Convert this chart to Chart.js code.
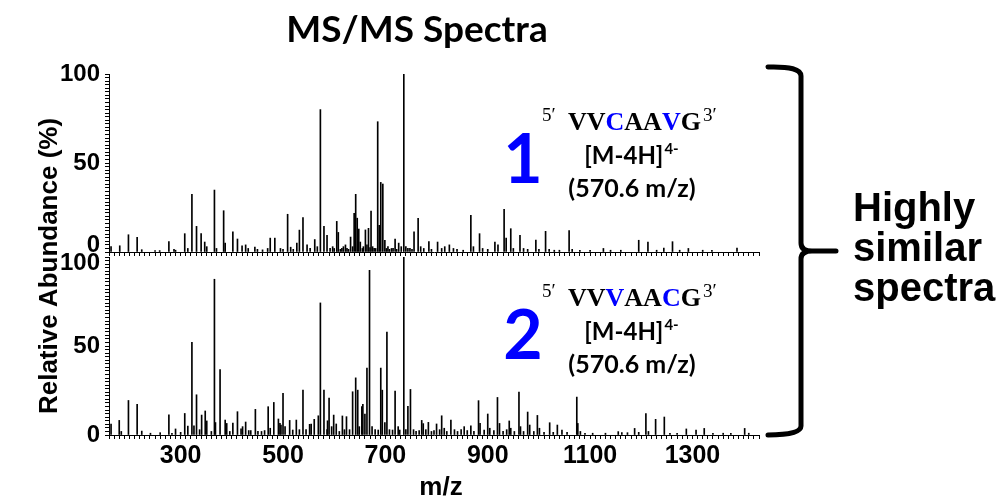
<!DOCTYPE html>
<html>
<head>
<meta charset="utf-8">
<script src="https://cdn.jsdelivr.net/npm/chart.js@4/dist/chart.umd.min.js"></script>
<style>
  html, body { margin: 0; padding: 0; background: #fff; }
  #wrap { position: relative; width: 1008px; height: 500px; }
  #wrap canvas { position: absolute; left: 0; top: 0; }
</style>
</head>
<body>
<div id="wrap">
  <canvas id="topChart" width="1008" height="500"></canvas>
  <canvas id="bottomChart" width="1008" height="500"></canvas>
</div>
<script>
// axis ranges and labels
const xMin = 160, xMax = 1430;
const xTickLabels = [300, 500, 700, 900, 1100, 1300];
const yTickLabels = [0, 50, 100];

// spectrum 1 (VVCAAVG)
const mzTop = [
  164, 181, 198, 215, 224, 250, 259, 277, 287, 290,
  308, 314, 322, 331, 340, 347, 351, 366, 370, 384,
  387, 402, 411, 420, 427, 432, 445, 450, 460, 470,
  475, 484, 495, 500, 509, 515, 520, 527, 532, 539,
  547, 553, 562, 567, 573, 580, 586, 592, 597, 600,
  605, 608, 612, 615, 618, 622, 625, 628, 632, 636,
  639, 642, 645, 648, 651, 655, 657, 661, 664, 667,
  670, 672, 675, 678, 681, 685, 688, 691, 695, 699,
  702, 705, 708, 712, 715, 719, 722, 726, 731, 736,
  740, 744, 748, 752, 756, 764, 769, 775, 785, 790,
  802, 810, 816, 825, 833, 840, 852, 867, 872, 884,
  890, 900, 914, 920, 932, 936, 945, 950, 963, 970,
  978, 994, 1000, 1013, 1020, 1030, 1040, 1059, 1065, 1080,
  1100, 1126, 1140, 1160, 1195, 1213, 1230, 1244, 1261, 1275,
  1292, 1320, 1338, 1387
];
const abTop = [
  3, 3.5, 9.7, 8.2, 1.3, 0.8, 0.8, 5.8, 1.5, 1,
  10.3, 2, 32.4, 14.4, 10.3, 5.6, 3, 34.8, 2, 23.2,
  5, 11.4, 7.3, 3.5, 4, 2, 2.7, 1.5, 1.2, 2,
  7.8, 7.8, 2, 1.5, 21.2, 2.7, 1.5, 5, 12.3, 19.3,
  4, 2, 7, 3, 80, 14.4, 9.4, 2, 3, 2,
  17.2, 11, 1.5, 2, 3, 4, 2, 1.5, 8.4, 3,
  21.7, 32.4, 19, 12.9, 5.6, 2, 3, 12.4, 4, 13.3,
  2.5, 23, 3, 2, 2, 73.2, 15, 39.1, 38.2, 6.5,
  2, 3, 1.5, 2, 2, 7.3, 1.5, 5, 3, 100,
  3, 2, 2, 1.5, 11.4, 18.9, 3, 2, 5.8, 1.5,
  5.6, 2, 3, 4, 2, 1.5, 1, 20.6, 3, 10.3,
  2, 1.5, 5.6, 4, 24, 7.8, 13.1, 2, 9.4, 2,
  1.5, 6.7, 1.5, 11.6, 1.5, 1, 1, 12, 1.5, 1,
  1, 2, 1, 1, 6.6, 5.6, 1, 2.2, 5.8, 1,
  2, 1, 1, 2.2
];

// spectrum 2 (VVVAACG)
const mzBottom = [
  164, 180, 184, 198, 215, 224, 241, 260, 277, 283,
  290, 300, 308, 314, 322, 326, 331, 337, 341, 348,
  351, 360, 366, 368, 377, 387, 390, 396, 402, 411,
  418, 421, 427, 433, 437, 446, 451, 458, 464, 471,
  475, 482, 491, 494, 496, 500, 504, 513, 519, 526,
  532, 539, 545, 552, 555, 561, 569, 573, 580, 586,
  587, 590, 595, 599, 604, 610, 616, 620, 624, 630,
  636, 642, 646, 649, 654, 656, 660, 664, 669, 674,
  680, 686, 691, 694, 699, 703, 708, 714, 719, 725,
  728, 736, 740, 744, 749, 755, 760, 766, 771, 774,
  779, 784, 790, 795, 800, 806, 810, 815, 820, 828,
  835, 841, 848, 854, 860, 867, 873, 882, 885, 893,
  900, 904, 912, 919, 923, 930, 937, 942, 945, 952,
  961, 964, 970, 978, 982, 990, 997, 1001, 1010, 1021,
  1028, 1036, 1045, 1055, 1074, 1076, 1081, 1090, 1105, 1130,
  1155, 1162, 1173, 1187, 1195, 1209, 1214, 1228, 1245, 1256,
  1270, 1288, 1307, 1323, 1340, 1360, 1375, 1402, 1410
];
const abBottom = [
  6.2, 8.2, 2, 19.4, 17.2, 2.2, 1, 1.3, 11.4, 1,
  3.4, 1.5, 12.1, 5, 52, 5.2, 22.6, 3, 11.2, 13.5,
  7.9, 2, 87.5, 7, 36.8, 8.4, 6.5, 2, 6.7, 13.1,
  3.4, 4.7, 7.3, 2.5, 2.5, 14.4, 2, 2, 2.5, 15.9,
  3.8, 18.3, 9, 6.5, 5.6, 23.4, 4.7, 8.2, 2.8, 8.4,
  3, 25.2, 3, 6, 6.2, 8.8, 10.8, 74.2, 25.2, 3,
  8, 20.7, 4.7, 11.2, 6.2, 2, 10.7, 3, 10.3, 3,
  24.3, 32.1, 25.2, 4.7, 15.9, 17.2, 11.8, 37.6, 92.5, 4.7,
  3, 2.8, 37.6, 25.2, 7, 57.8, 3, 2.8, 24.7, 4.7,
  2.8, 100, 3, 16.1, 25.6, 3, 2, 2.5, 8.2, 6.4,
  3, 7.1, 2, 2.5, 6.2, 3, 10.8, 3.8, 2, 8.4,
  3, 2, 3, 4.7, 2.5, 5.2, 2, 19.3, 6.5, 2.8,
  11.8, 3.8, 2.5, 21.1, 6.5, 2, 3, 7.9, 3.8, 2,
  24.1, 4.7, 2, 12.9, 5.6, 2, 11, 3.8, 1.5, 6.9,
  1.5, 5.6, 2.8, 1.5, 21.3, 6.5, 2, 1, 1, 1,
  1.9, 1.3, 1.3, 3.7, 1.5, 12.1, 2, 8.8, 10.1, 1,
  1, 3.4, 2.8, 3.7, 1, 1, 1, 3.7, 1
];

// annotation texts
const titleText = 'MS/MS Spectra';
const yTitle = 'Relative Abundance (%)';
const xTitle = 'm/z';
const seqTop = ['V', 'V', 'C', 'A', 'A', 'V', 'G'];
const seqBottom = ['V', 'V', 'V', 'A', 'A', 'C', 'G'];
const seqTopHighlight = [2, 5];
const seqBottomHighlight = [2, 5];
const ionText = '[M-4H]';
const ionCharge = '4-';
const precursorText = '(570.6 m/z)';
const noteLines = ['Highly', 'similar', 'spectra'];

const BLUE = '#0000ff';
const SANS = '"Liberation Sans", Arial, sans-serif';
const SERIF = '"Liberation Serif", "Times New Roman", serif';
const CAL = 'Lato, "Open Sans", sans-serif';

function makeChart(id, mz, ab, opt) {
  const ctx = document.getElementById(id).getContext('2d');
  return new Chart(ctx, {
    type: 'bar',
    data: {
      datasets: [{
        data: mz.map((m, i) => ({ x: m, y: ab[i] })),
        backgroundColor: '#000',
        borderWidth: 0,
        barThickness: 1,
      }]
    },
    options: {
      responsive: false,
      animation: false,
      devicePixelRatio: 1,
      events: [],
      layout: { padding: opt.padding },
      plugins: { legend: { display: false }, tooltip: { enabled: false } },
      scales: {
        x: {
          type: 'linear', min: xMin, max: xMax, offset: false,
          afterFit: s => { s.height = opt.xHeight; },
          border: { color: '#000', width: 1 },
          grid: { drawOnChartArea: false, offset: false, tickLength: 4, color: '#000' },
          ticks: {
            stepSize: 10, autoSkip: false, maxRotation: 0, minRotation: 0,
            includeBounds: false, padding: 2, color: '#000',
            font: { family: SANS, size: 25, weight: 'bold' },
            callback: v => (opt.xLabels && xTickLabels.includes(v)) ? String(v) : ''
          }
        },
        y: {
          min: 0, max: 100,
          afterFit: s => { s.width = 60; },
          border: { color: '#000', width: 1 },
          grid: { drawOnChartArea: false, tickLength: 4, color: '#000' },
          ticks: {
            stepSize: 2, autoSkip: false, padding: 5, color: '#000',
            font: { family: SANS, size: 24, weight: 'bold', lineHeight: '13px' },
            callback: opt.yLabel
          }
        }
      }
    },
    plugins: opt.plugins || []
  });
}

function drawSequence(ctx, letters, highlight, x, base) {
  ctx.textAlign = 'left';
  ctx.textBaseline = 'alphabetic';
  ctx.fillStyle = '#000';
  ctx.font = '19px ' + SERIF;
  ctx.fillText('5\u2032', x - 26, base - 9);
  ctx.font = 'bold 26px ' + SERIF;
  let cx = x;
  letters.forEach((ch, i) => {
    ctx.fillStyle = highlight.includes(i) ? BLUE : '#000';
    ctx.fillText(ch, cx, base);
    cx += ctx.measureText(ch).width;
  });
  ctx.fillStyle = '#000';
  ctx.font = '19px ' + SERIF;
  ctx.fillText('3\u2032', cx + 2, base - 9);
}

function drawIon(ctx, cx, base) {
  ctx.textBaseline = 'alphabetic';
  ctx.fillStyle = '#000';
  ctx.font = 'bold 24px ' + CAL;
  const w1 = ctx.measureText(ionText).width;
  ctx.font = 'bold 15px ' + CAL;
  const w2 = ctx.measureText(ionCharge).width;
  const left = cx - (w1 + w2) / 2;
  ctx.textAlign = 'left';
  ctx.font = 'bold 24px ' + CAL;
  ctx.fillText(ionText, left, base);
  ctx.font = 'bold 15px ' + CAL;
  ctx.fillText(ionCharge, left + w1 + 1, base - 10);
}

function drawPanelNote(ctx, num, letters, highlight, top) {
  // top = baseline of the sequence line
  ctx.textAlign = 'center';
  ctx.textBaseline = 'alphabetic';
  ctx.fillStyle = BLUE;
  ctx.font = 'bold 68px ' + CAL;
  ctx.fillText(num, 523, top + 53);
  drawSequence(ctx, letters, highlight, 568, top);
  drawIon(ctx, 631, top + 34);
  ctx.textAlign = 'center';
  ctx.fillStyle = '#000';
  ctx.font = 'bold 25px ' + CAL;
  ctx.fillText(precursorText, 632, top + 67);
}

const annotate = {
  id: 'annotate',
  afterDraw(chart) {
    const ctx = chart.ctx;
    ctx.save();
    ctx.fillStyle = '#000';
    ctx.textAlign = 'center';
    ctx.textBaseline = 'alphabetic';
    ctx.font = 'bold 37px ' + CAL;
    ctx.fillText(titleText, 417, 42);

    ctx.save();
    ctx.translate(50, 266);
    ctx.rotate(-Math.PI / 2);
    ctx.textBaseline = 'middle';
    ctx.font = 'bold 26px ' + SANS;
    ctx.fillText(yTitle, 0, 0);
    ctx.restore();

    ctx.font = 'bold 26px ' + SANS;
    ctx.fillText(xTitle, 441, 495);

    drawPanelNote(ctx, '1', seqTop, seqTopHighlight, 130);
    drawPanelNote(ctx, '2', seqBottom, seqBottomHighlight, 306);

    // curly bracket
    ctx.strokeStyle = '#000';
    ctx.lineWidth = 5;
    ctx.lineCap = 'round';
    ctx.lineJoin = 'round';
    ctx.beginPath();
    ctx.moveTo(768, 67);
    ctx.quadraticCurveTo(801, 66, 801, 76);
    ctx.lineTo(801, 243);
    ctx.quadraticCurveTo(801, 251, 812, 251);
    ctx.lineTo(836, 251);
    ctx.moveTo(812, 251);
    ctx.quadraticCurveTo(801, 251, 801, 259);
    ctx.lineTo(801, 426);
    ctx.quadraticCurveTo(801, 435, 768, 435);
    ctx.stroke();

    ctx.textAlign = 'left';
    ctx.font = 'bold 40px ' + SANS;
    noteLines.forEach((t, i) => ctx.fillText(t, 853, 221 + i * 40));
    ctx.restore();
  }
};

makeChart('topChart', mzTop, abTop, {
  padding: { left: 49, right: 249, top: 74, bottom: 238 },
  xHeight: 10,
  xLabels: false,
  yLabel: v => v === 100 ? '100' : v === 50 ? '50' : v === 0 ? ['0', ''] : ''
});

makeChart('bottomChart', mzBottom, abBottom, {
  padding: { left: 49, right: 249, top: 257, bottom: 0 },
  xHeight: 65,
  xLabels: true,
  yLabel: v => v === 100 ? ['', '100'] : v === 50 ? '50' : v === 0 ? '0' : '',
  plugins: [annotate]
});
</script>
</body>
</html>
